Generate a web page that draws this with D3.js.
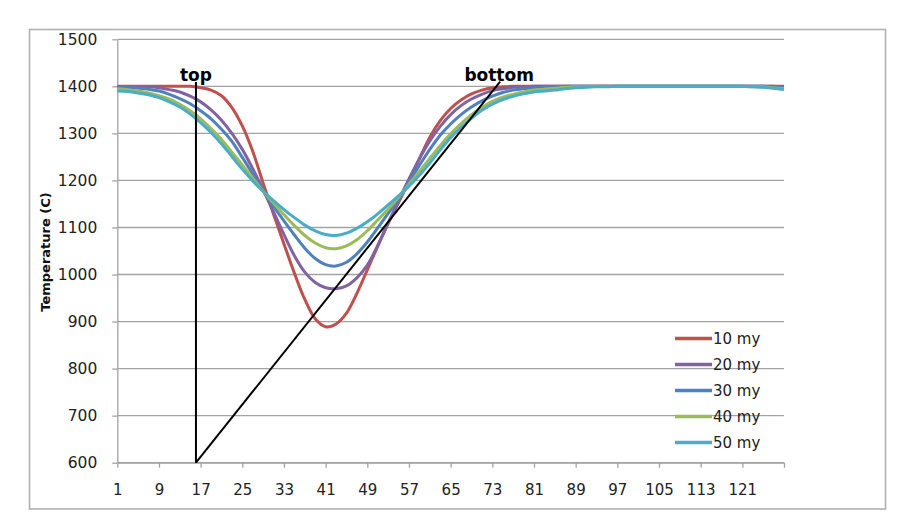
<!DOCTYPE html>
<html>
<head>
<meta charset="utf-8">
<script src="https://cdn.jsdelivr.net/npm/d3@7"></script>
<style>
  body { margin: 0; background: #fff; }
  svg { display: block; font-family: "DejaVu Sans", Verdana, sans-serif; }
</style>
</head>
<body>
<div id="vis"></div>
<script>
// categories (every 2nd row of the sheet)
const cats = [1,3,5,7,9,11,13,15,17,19,21,23,25,27,29,31,33,35,37,39,41,43,45,47,49,51,53,55,57,59,61,63,65,67,69,71,73,75,77,79,81,83,85,87,89,91,93,95,97,99,101,103,105,107,109,111,113,115,117,119,121,123,125,127,129];

// temperature series
const my10 = [1400,1400,1400,1400,1400,1400,1400,1400,
  1397,1392,1380,1355,1316,1262,1194,1128,1065,1003,947,906,889,895,918,960,1010,1060,1108,1153,1198,1246,1292,1327,1353,1371,1384,1392,1397,1399,
  1400,1400,1400,1400,1400,1400,1400,1400,1400,1400,1400,1400,1400,1400,1400,1400,1400,1400,1400,1400,1400,1400,1400,1400,1400,1400,1400];
const my20 = [1399,1399,1399,1399,1397,1393,1388,1379,1367,1350,1328,1300,1266,1225,1180,1133,1085,1040,1005,983,972,
  970,976,993,1020,1062,1110,1157,1203,1246,1284,1315,1340,1359,1373,1383,1391,1395,1398,1399,
  1400,1400,1400,1400,1400,1400,1400,1400,1400,1400,1400,1400,1400,1400,1400,1400,1400,1400,1400,1400,1400,1400,1400,1400,1399];
const my30 = [1398,1398,1396,1394,1390,1383,1374,1363,1348,1331,1309,1283,1249,1214,1178,1145,1114,1084,1056,1034,1021,
  1018,1026,1044,1069,1099,1130,1160,1196,1232,1266,1296,1320,1340,1356,1369,1379,1387,1392,1395,1397,1398,1399,
  1400,1400,1400,1400,1400,1400,1400,1400,1400,1400,1400,1400,1400,1400,1400,1400,1400,1400,1400,1400,1399,1398];
const my40 = [1395,1393,1390,1386,1380,1373,1362,1348,1331,1310,1287,1260,1233,1205,1177,1152,1127,1104,1083,1067,1057,
  1055,1061,1074,1093,1116,1139,1164,1192,1219,1247,1274,1299,1321,1340,1355,1368,1377,1383,1388,1392,1394,1396,1398,1399,1399,
  1400,1400,1400,1400,1400,1400,1400,1400,1400,1400,1400,1400,1400,1400,1400,1399,1399,1397,1395];
const my50 = [1390,1389,1386,1382,1376,1367,1356,1341,1323,1302,1278,1251,1224,1199,1177,1157,1138,1121,1105,1093,1085,
  1083,1088,1098,1112,1129,1148,1167,1188,1211,1237,1265,1291,1313,1332,1349,1362,1372,1379,1384,1388,1390,1392,1395,1397,1398,1399,1399,
  1400,1400,1400,1400,1400,1400,1400,1400,1400,1400,1400,1400,1400,1399,1398,1396,1393];

const seriesNames = ['10 my', '20 my', '30 my', '40 my', '50 my'];
const seriesColors = ['#C0504D', '#8064A2', '#4F81BD', '#9BBB59', '#4BACC6'];

const xTickValues = [1,9,17,25,33,41,49,57,65,73,81,89,97,105,113,121,129];
const xTickLabels = [1,9,17,25,33,41,49,57,65,73,81,89,97,105,113,121];
const yTickValues = [600,700,800,900,1000,1100,1200,1300,1400,1500];

// the two hand-drawn marker lines, in data units
const topLine = [[16.1, 600], [16.1, 1409]];
const bottomLine = [[16.1, 600], [74.5, 1410]];

const FRAME_WIDTH = 906;
const FRAME_HEIGHT = 529;
const MARGINS = {left: 117.3, right: 122, top: 39.3, bottom: 66.3};
const VIS_WIDTH = FRAME_WIDTH - MARGINS.left - MARGINS.right;
const VIS_HEIGHT = FRAME_HEIGHT - MARGINS.top - MARGINS.bottom;

const svg = d3.select('#vis')
  .append('svg')
    .attr('width', FRAME_WIDTH)
    .attr('height', FRAME_HEIGHT);

// outer chart border
svg.append('rect')
  .attr('x', 29.5).attr('y', 29.5)
  .attr('width', 856).attr('height', 479.5)
  .attr('fill', 'none')
  .attr('stroke', '#b0b0b0')
  .attr('stroke-width', 1.6);

const X_SCALE = d3.scaleLinear().domain([1, 129]).range([0, VIS_WIDTH]);
const Y_SCALE = d3.scaleLinear().domain([600, 1500]).range([VIS_HEIGHT, 0]);

const plot = svg.append('g')
  .attr('transform', 'translate(' + MARGINS.left + ',' + MARGINS.top + ')');

// gridlines
plot.append('g')
  .selectAll('line')
  .data(yTickValues)
  .enter().append('line')
    .attr('x1', 0).attr('x2', VIS_WIDTH)
    .attr('y1', d => Y_SCALE(d)).attr('y2', d => Y_SCALE(d))
    .attr('stroke', '#a3a3a3')
    .attr('stroke-width', 1.3);

// y axis
const yAxis = plot.append('g')
  .call(d3.axisLeft(Y_SCALE).tickValues(yTickValues).tickFormat(d3.format('d'))
    .tickSize(5).tickPadding(15).tickSizeOuter(0));
yAxis.select('.domain').attr('stroke', '#a3a3a3').attr('stroke-width', 1.3);
yAxis.selectAll('.tick line').attr('stroke', '#a3a3a3').attr('stroke-width', 1.3);
yAxis.selectAll('text').attr('font-size', '15.5px').attr('fill', '#222')
  .attr('font-family', '"DejaVu Sans", Verdana, sans-serif');

// x axis
const xAxis = plot.append('g')
  .attr('transform', 'translate(0,' + VIS_HEIGHT + ')')
  .call(d3.axisBottom(X_SCALE).tickValues(xTickValues)
    .tickFormat(d => xTickLabels.includes(d) ? d : '')
    .tickSize(5).tickPadding(17).tickSizeOuter(0));
xAxis.select('.domain').attr('stroke', '#a3a3a3').attr('stroke-width', 1.3);
xAxis.selectAll('.tick line').attr('stroke', '#a3a3a3').attr('stroke-width', 1.3);
xAxis.selectAll('text').attr('font-size', '15px').attr('fill', '#222')
  .attr('font-family', '"DejaVu Sans", Verdana, sans-serif');

// y axis title
svg.append('text')
  .attr('transform', 'translate(50,252) rotate(-90)')
  .attr('text-anchor', 'middle')
  .attr('font-size', '13px')
  .attr('font-weight', 'bold')
  .attr('fill', '#111')
  .text('Temperature (C)');

// series lines
const allSeries = [my10, my20, my30, my40, my50];
const line = d3.line()
  .x((d, i) => X_SCALE(cats[i]))
  .y(d => Y_SCALE(d))
  .curve(d3.curveCatmullRom.alpha(0.5));

allSeries.forEach((vals, k) => {
  plot.append('path')
    .datum(vals)
    .attr('d', line)
    .attr('fill', 'none')
    .attr('stroke', seriesColors[k])
    .attr('stroke-width', 3)
    .attr('stroke-linejoin', 'round');
});

// marker lines
const markLine = d3.line().x(d => X_SCALE(d[0])).y(d => Y_SCALE(d[1]));
[topLine, bottomLine].forEach(pts => {
  plot.append('path')
    .attr('d', markLine(pts))
    .attr('fill', 'none')
    .attr('stroke', '#000')
    .attr('stroke-width', 2);
});

plot.append('text')
  .attr('x', X_SCALE(topLine[1][0]))
  .attr('y', Y_SCALE(topLine[1][1]) - 1.5)
  .attr('text-anchor', 'middle')
  .attr('font-size', '17px').attr('font-weight', 'bold')
  .text('top');

plot.append('text')
  .attr('x', X_SCALE(bottomLine[1][0]) - 1)
  .attr('y', Y_SCALE(bottomLine[1][1]) - 1)
  .attr('text-anchor', 'middle')
  .attr('font-size', '17px').attr('font-weight', 'bold')
  .text('bottom');

// legend
const legend = svg.append('g').attr('transform', 'translate(675,338.5)');
seriesNames.forEach((name, k) => {
  const row = legend.append('g').attr('transform', 'translate(0,' + (k * 26) + ')');
  row.append('line')
    .attr('x1', 0).attr('x2', 37)
    .attr('y1', 0).attr('y2', 0)
    .attr('stroke', seriesColors[k])
    .attr('stroke-width', 3.5);
  row.append('text')
    .attr('x', 38)
    .attr('y', 0)
    .attr('dy', '0.36em')
    .attr('font-size', '15px')
    .attr('fill', '#222')
    .text(name);
});
</script>
</body>
</html>
